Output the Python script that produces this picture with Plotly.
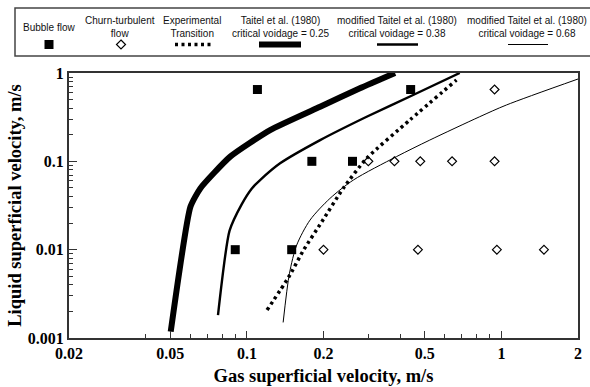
import plotly.graph_objects as go
import math

# ---------------- data ----------------
bubble_x = [0.11, 0.44, 0.18, 0.26, 0.09, 0.15]
bubble_y = [0.65, 0.65, 0.1, 0.1, 0.01, 0.01]

churn_x = [0.94, 0.30, 0.38, 0.48, 0.64, 0.94, 0.20, 0.47, 0.96, 1.47]
churn_y = [0.65, 0.1, 0.1, 0.1, 0.1, 0.1, 0.01, 0.01, 0.01, 0.01]

exp_x = [0.12, 0.146, 0.167, 0.197, 0.239, 0.2955, 0.437, 0.666]
exp_y = [0.00207, 0.0049, 0.0099, 0.0207, 0.0494, 0.108, 0.294, 0.833]

t25_x = [0.0502, 0.060, 0.0656, 0.086, 0.1234, 0.194, 0.278, 0.382]
t25_y = [0.00118, 0.0306, 0.0494, 0.113, 0.226, 0.415, 0.671, 1.0]

t38_x = [0.0770, 0.0855, 0.0955, 0.1046, 0.1127, 0.135, 0.194, 0.2955, 0.450, 0.686]
t38_y = [0.00182, 0.0164, 0.0328, 0.0494, 0.0614, 0.095, 0.174, 0.32, 0.564, 1.0]

t68_x = [0.1388, 0.147, 0.157, 0.177, 0.212, 0.262, 0.387, 0.523, 0.822, 1.046, 2.0]
t68_y = [0.0015, 0.0054, 0.0113, 0.0216, 0.038, 0.0614, 0.113, 0.174, 0.32, 0.434, 0.855]

x_ticks = [0.02, 0.05, 0.1, 0.2, 0.5, 1, 2]
x_ticktext = ["0.02", "0.05", "0.1", "0.2", "0.5", "1", "2"]
x_minor = [0.04, 0.06, 0.07, 0.08, 0.09, 0.3, 0.4, 0.6, 0.7, 0.8, 0.9]
y_ticks = [0.001, 0.01, 0.1, 1]
y_ticktext = ["0.001", "0.01", "0.1", "1"]
y_minor = [m * d for d in (0.001, 0.01, 0.1) for m in range(2, 10)]

legend_labels = ["Bubble flow", "Churn-turbulent<br>flow", "Experimental<br>Transition",
                 "Taitel et al. (1980)<br>critical voidage = 0.25",
                 "modified Taitel et al. (1980)<br>critical voidage = 0.38",
                 "modified Taitel et al. (1980)<br>critical voidage = 0.68"]

# ---------------- layout geometry (pixels) ----------------
W, H = 590, 387
L, R, T, B = 69, 578, 73, 338


def px(x):
    return (x - L) / (R - L)


def py(y):
    return (B - y) / (B - T)


fig = go.Figure()
fig.add_trace(go.Scatter(x=t25_x, y=t25_y, mode="lines",
                         line=dict(color="black", width=6, shape="spline", smoothing=0.5),
                         showlegend=False))
fig.add_trace(go.Scatter(x=t38_x, y=t38_y, mode="lines",
                         line=dict(color="black", width=2.4, shape="spline", smoothing=0.6),
                         showlegend=False))
fig.add_trace(go.Scatter(x=t68_x, y=t68_y, mode="lines",
                         line=dict(color="black", width=1, shape="spline", smoothing=0.8),
                         showlegend=False))
fig.add_trace(go.Scatter(x=exp_x, y=exp_y, mode="lines",
                         line=dict(color="black", width=3.5, dash="3px,3.5px", shape="spline", smoothing=0.6),
                         showlegend=False))
fig.add_trace(go.Scatter(x=bubble_x, y=bubble_y, mode="markers",
                         marker=dict(symbol="square", size=9, color="black"), showlegend=False))
fig.add_trace(go.Scatter(x=churn_x, y=churn_y, mode="markers",
                         marker=dict(symbol="diamond-open", size=6.8, color="black",
                                     line=dict(width=1.2)), showlegend=False))

shapes = []
annotations = []

# legend frame
shapes.append(dict(type="rect", xref="paper", yref="paper",
                   x0=px(15), x1=px(600), y0=py(56), y1=py(8),
                   line=dict(color="#444", width=1.5), fillcolor="rgba(0,0,0,0)"))

centers = [49, 120, 192, 280, 397, 527]
for c, lab in zip(centers, legend_labels):
    annotations.append(dict(xref="paper", yref="paper", x=px(c), y=py(27.5),
                            text=lab, showarrow=False, xanchor="center", yanchor="middle",
                            font=dict(family="Liberation Sans", size=10, color="#111"),
                            align="center"))

sym_y = 44.5
# bubble square
shapes.append(dict(type="rect", xref="paper", yref="paper",
                   x0=px(44.5), x1=px(53.5), y0=py(sym_y + 4.5), y1=py(sym_y - 4.5),
                   fillcolor="black", line=dict(width=0)))
# diamond
dx, dy = 4.5, 4.5
pts = [(121, sym_y - dy), (121 + dx, sym_y), (121, sym_y + dy), (121 - dx, sym_y)]
path = "M " + " L ".join(f"{px(a)},{py(b)}" for a, b in pts) + " Z"
shapes.append(dict(type="path", xref="paper", yref="paper", path=path,
                   line=dict(color="black", width=1.2), fillcolor="white"))
# dotted sample
shapes.append(dict(type="line", xref="paper", yref="paper", x0=px(175), x1=px(213),
                   y0=py(sym_y), y1=py(sym_y), line=dict(color="black", width=3.5, dash="3px,3.5px")))
# thick sample
shapes.append(dict(type="line", xref="paper", yref="paper", x0=px(259), x1=px(301),
                   y0=py(sym_y), y1=py(sym_y), line=dict(color="black", width=6)))
# medium
shapes.append(dict(type="line", xref="paper", yref="paper", x0=px(377), x1=px(418),
                   y0=py(sym_y), y1=py(sym_y), line=dict(color="black", width=2.4)))
# thin
shapes.append(dict(type="line", xref="paper", yref="paper", x0=px(508), x1=px(548),
                   y0=py(sym_y), y1=py(sym_y), line=dict(color="black", width=1)))

tickfont = dict(family="Liberation Serif", size=16, color="black", weight="bold")
titlefont = dict(family="Liberation Serif", size=18.5, color="black", weight="bold")

fig.update_layout(
    width=W, height=H,
    margin=dict(l=L, r=W - R, t=T, b=H - B, autoexpand=False),
    paper_bgcolor="white", plot_bgcolor="white",
    shapes=shapes, annotations=annotations,
    xaxis=dict(type="log", range=[math.log10(0.02), math.log10(2)],
               tickvals=x_ticks, ticktext=x_ticktext, ticks="inside", ticklen=7,
               tickwidth=1.3, tickcolor="#333", tickfont=tickfont,
               minor=dict(tickvals=x_minor, ticks="inside", ticklen=4, tickwidth=1.2, tickcolor="#333"),
               showgrid=False, zeroline=False, showline=True, linecolor="#333", linewidth=2,
               mirror=True,
               title=dict(text="Gas superficial velocity, m/s", font=titlefont, standoff=8)),
    yaxis=dict(type="log", range=[-3, 0],
               tickvals=y_ticks, ticktext=y_ticktext, ticks="inside", ticklen=8,
               tickwidth=1.3, tickcolor="#333", tickfont=tickfont,
               minor=dict(tickvals=y_minor, ticks="inside", ticklen=4, tickwidth=1.2, tickcolor="#333"),
               showgrid=False, zeroline=False, showline=True, linecolor="#333", linewidth=2,
               mirror=True,
               title=dict(text="Liquid superficial velocity, m/s", font=titlefont, standoff=1)),
)

fig.write_html("out.html")
